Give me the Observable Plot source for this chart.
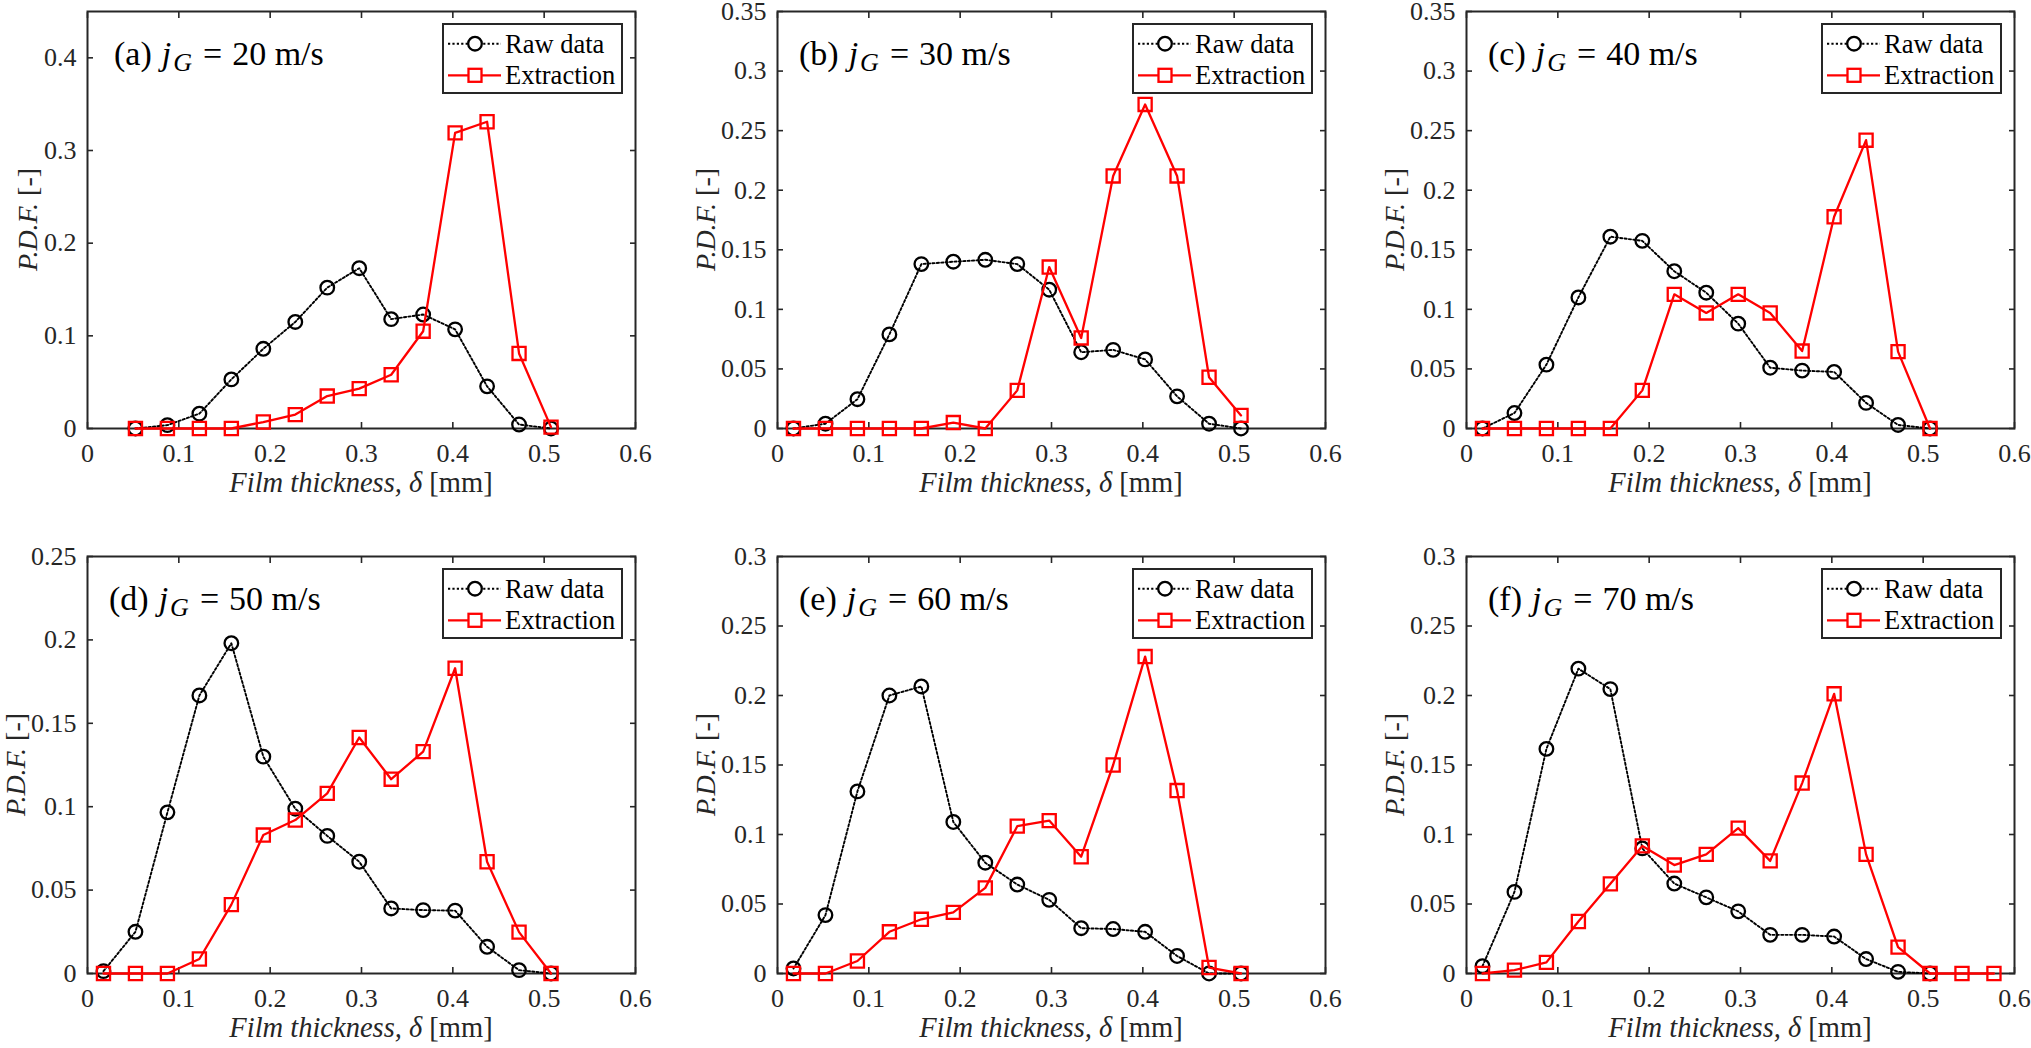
<!DOCTYPE html>
<html>
<head>
<meta charset="utf-8">
<script src="https://cdn.jsdelivr.net/npm/d3@7"></script>
<script src="https://cdn.jsdelivr.net/npm/@observablehq/plot@0.6"></script>
<style>
  html, body { margin: 0; padding: 0; background: #fff; }
  #chart { position: relative; width: 2031px; height: 1048px; overflow: hidden; }
  #chart svg { position: absolute; overflow: visible; }
</style>
</head>
<body>
<div id="chart"></div>
<script>
// Film thickness PDFs, raw data vs. extraction, for six gas velocities.
/* global d3, Plot */

// bin centres of the film thickness histogram [mm]
const binCenters = [0.0175, 0.0525, 0.0875, 0.1225, 0.1575, 0.1925, 0.2275, 0.2625, 0.2975,
  0.3325, 0.3675, 0.4025, 0.4375, 0.4725, 0.5075, 0.5425, 0.5775];

// P.D.F. values (null = no point drawn)
const raw20 = [null, 0, 0.0036, 0.016, 0.053, 0.086, 0.115, 0.152, 0.173, 0.118, 0.123, 0.107, 0.0455, 0.0043, 0];
const ext20 = [null, 0, 0, 0, 0, 0.007, 0.015, 0.035, 0.043, 0.058, 0.105, 0.319, 0.331, 0.081, 0.0015];
const raw30 = [0, 0.004, 0.0246, 0.079, 0.138, 0.140, 0.1416, 0.138, 0.1165, 0.064, 0.066, 0.058, 0.027, 0.004, 0];
const ext30 = [0, 0, 0, 0, 0, 0.005, 0, 0.032, 0.1355, 0.076, 0.212, 0.272, 0.212, 0.043, 0.011];
const raw40 = [0, 0.013, 0.0536, 0.11, 0.161, 0.1575, 0.132, 0.114, 0.088, 0.051, 0.0486, 0.0475, 0.0215, 0.003, 0];
const ext40 = [0, 0, 0, 0, 0, 0.032, 0.1126, 0.097, 0.1126, 0.097, 0.065, 0.1777, 0.242, 0.0645, 0];
const raw50 = [0.0014, 0.025, 0.0966, 0.1667, 0.198, 0.130, 0.0988, 0.0825, 0.067, 0.039, 0.038, 0.0377, 0.016, 0.002, 0];
const ext50 = [0, 0, 0, 0.0087, 0.0413, 0.083, 0.092, 0.108, 0.1415, 0.1165, 0.133, 0.183, 0.067, 0.0248, 0];
const raw60 = [0.0036, 0.042, 0.131, 0.200, 0.2065, 0.109, 0.0797, 0.064, 0.053, 0.0326, 0.032, 0.030, 0.0126, 0, 0];
const ext60 = [0, 0, 0.009, 0.030, 0.039, 0.044, 0.0616, 0.106, 0.110, 0.084, 0.150, 0.228, 0.1316, 0.0043, 0];
const raw70 = [0.0053, 0.0587, 0.1616, 0.2193, 0.2046, 0.09, 0.0647, 0.0548, 0.0447, 0.0278, 0.0278, 0.0266, 0.0104, 0.0012, 0];
const ext70 = [0, 0.0024, 0.008, 0.0374, 0.0645, 0.0918, 0.078, 0.0857, 0.1046, 0.081, 0.137, 0.2012, 0.0857, 0.019, 0, 0, 0];

const panelTags = ['a', 'b', 'c', 'd', 'e', 'f'];
const gasVelocities = [20, 30, 40, 50, 60, 70];
const yMaxes = [0.45, 0.35, 0.35, 0.25, 0.3, 0.3];

// tick values
const xTicks = [0, 0.1, 0.2, 0.3, 0.4, 0.5, 0.6];
const yTicks45 = [0, 0.1, 0.2, 0.3, 0.4];
const yTicks35 = [0, 0.05, 0.1, 0.15, 0.2, 0.25, 0.3, 0.35];
const yTicks25 = [0, 0.05, 0.1, 0.15, 0.2, 0.25];
const yTicks30 = [0, 0.05, 0.1, 0.15, 0.2, 0.25, 0.3];
const yTicksByPanel = [yTicks45, yTicks35, yTicks35, yTicks25, yTicks30, yTicks30];

const rawByPanel = [raw20, raw30, raw40, raw50, raw60, raw70];
const extByPanel = [ext20, ext30, ext40, ext50, ext60, ext70];

const ink = '#262626';
const serif = '"Liberation Serif", "Times New Roman", serif';
const fmt = d => String(+d.toFixed(2));

// panel geometry (px)
const W = 650, H = 500, mL = 87, mR = 15, mT = 9, mB = 74;
const colLeft = [0, 690, 1379];
const rowTop = [2, 547];

const toRows = values => values
  .map((v, i) => ({ x: binCenters[i], y: v }))
  .filter(d => d.y !== null);

const chart = document.getElementById('chart');

panelTags.forEach((tag, i) => {
  const raw = toRows(rawByPanel[i]);
  const ext = toRows(extByPanel[i]);
  const yt = yTicksByPanel[i];

  const plot = Plot.plot({
    width: W,
    height: H,
    marginLeft: mL,
    marginRight: mR,
    marginTop: mT,
    marginBottom: mB,
    style: { fontFamily: serif, fontSize: '26px', color: ink, background: 'none', overflow: 'visible' },
    x: { domain: [0, 0.6] },
    y: { domain: [0, yMaxes[i]] },
    marks: [
      Plot.axisX(xTicks, { anchor: 'bottom', tickSize: 0, tickPadding: 15, tickFormat: fmt, label: null }),
      Plot.axisX(xTicks, { anchor: 'bottom', tickSize: -6, fill: 'none', label: null, strokeWidth: 1.6 }),
      Plot.axisX(xTicks, { anchor: 'top', tickSize: -6, fill: 'none', label: null, strokeWidth: 1.6 }),
      Plot.axisY(yt, { anchor: 'left', tickSize: 0, tickPadding: 11, tickFormat: fmt, label: null }),
      Plot.axisY(yt, { anchor: 'left', tickSize: -6, fill: 'none', label: null, strokeWidth: 1.6 }),
      Plot.axisY(yt, { anchor: 'right', tickSize: -6, fill: 'none', label: null, strokeWidth: 1.6 }),
      Plot.frame({ stroke: ink, strokeWidth: 2 }),
      Plot.line(raw, { x: 'x', y: 'y', stroke: '#000', strokeWidth: 1.9, strokeDasharray: '2.2,2.2' }),
      Plot.dot(raw, { x: 'x', y: 'y', r: 6.8, stroke: '#000', strokeWidth: 2.3, fill: 'none' }),
      Plot.line(ext, { x: 'x', y: 'y', stroke: '#ff0000', strokeWidth: 2.3 }),
      Plot.dot(ext, { x: 'x', y: 'y', r: 7.4, symbol: 'square', stroke: '#ff0000', strokeWidth: 2.3, fill: 'none' })
    ]
  });

  const col = i % 3, row = Math.floor(i / 3);
  plot.style.left = colLeft[col] + 'px';
  plot.style.top = rowTop[row] + 'px';
  chart.append(plot);

  const svg = d3.select(plot);
  const fx0 = mL, fx1 = W - mR, fy0 = mT, fy1 = H - mB;

  // panel title: (a) j_G = 20 m/s
  const title = svg.append('text')
    .attr('x', fx0 + (i === 0 ? 27 : 22))
    .attr('y', fy0 + 54)
    .attr('text-anchor', 'start')
    .attr('font-family', serif)
    .attr('font-size', 34)
    .attr('fill', '#000');
  title.append('tspan').text(`(${tag})`);
  title.append('tspan').attr('dx', 10).attr('font-style', 'italic').text('j');
  title.append('tspan').attr('font-style', 'italic').attr('font-size', 26).attr('dx', 2).attr('dy', 6).text('G');
  title.append('tspan').attr('dy', -6).attr('dx', 11).text('=');
  title.append('tspan').attr('dx', 10).text(`${gasVelocities[i]} m/s`);

  // x label
  const xl = svg.append('text')
    .attr('x', (fx0 + fx1) / 2)
    .attr('y', fy1 + 64)
    .attr('text-anchor', 'middle')
    .attr('font-family', serif)
    .attr('font-size', 28.5)
    .attr('fill', ink);
  xl.append('tspan').attr('font-style', 'italic').text('Film thickness, δ');
  xl.append('tspan').text(' [mm]');

  // y label
  const yx = fx0 - (i === 0 ? 50 : 62);
  const yy = (fy0 + fy1) / 2;
  const yl = svg.append('text')
    .attr('transform', `translate(${yx},${yy}) rotate(-90)`)
    .attr('text-anchor', 'middle')
    .attr('font-family', serif)
    .attr('font-size', 28)
    .attr('fill', ink);
  yl.append('tspan').attr('font-style', 'italic').text('P.D.F.');
  yl.append('tspan').text(' [-]');

  // legend
  const lg = svg.append('g')
    .attr('font-family', serif)
    .attr('font-size', 26.5)
    .attr('text-anchor', 'start')
    .attr('fill', '#000');
  lg.append('rect')
    .attr('x', fx1 - 192).attr('y', fy0 + 13)
    .attr('width', 179).attr('height', 69)
    .attr('fill', '#fff').attr('stroke', ink).attr('stroke-width', 2);
  const rowsY = [fy0 + 32.7, fy0 + 64.3];
  // raw data entry
  lg.append('line')
    .attr('x1', fx1 - 187).attr('x2', fx1 - 134).attr('y1', rowsY[0]).attr('y2', rowsY[0])
    .attr('stroke', '#000').attr('stroke-width', 1.9).attr('stroke-dasharray', '2.2,2.2');
  lg.append('circle')
    .attr('cx', fx1 - 160).attr('cy', rowsY[0]).attr('r', 6.8)
    .attr('fill', '#fff').attr('stroke', '#000').attr('stroke-width', 2.3);
  lg.append('text').attr('x', fx1 - 130).attr('y', rowsY[0] + 9.5).text('Raw data');
  // extraction entry
  lg.append('line')
    .attr('x1', fx1 - 187).attr('x2', fx1 - 134).attr('y1', rowsY[1]).attr('y2', rowsY[1])
    .attr('stroke', '#ff0000').attr('stroke-width', 2.3);
  lg.append('rect')
    .attr('x', fx1 - 160 - 6.5).attr('y', rowsY[1] - 6.5).attr('width', 13).attr('height', 13)
    .attr('fill', '#fff').attr('stroke', '#ff0000').attr('stroke-width', 2.3);
  lg.append('text').attr('x', fx1 - 130).attr('y', rowsY[1] + 9).text('Extraction');
});
</script>
</body>
</html>
